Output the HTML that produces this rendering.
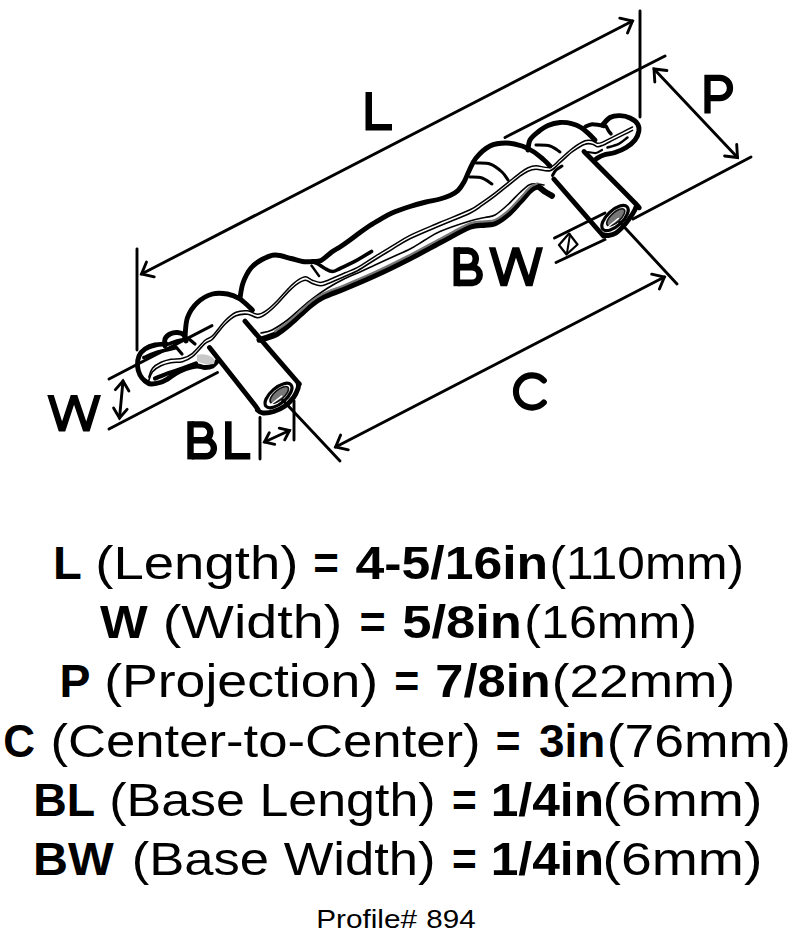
<!DOCTYPE html>
<html><head><meta charset="utf-8"><style>
html,body{margin:0;padding:0;background:#fff;width:800px;height:935px;overflow:hidden;position:relative}
</style></head><body>
<svg width="800" height="935" viewBox="0 0 800 935" style="position:absolute;left:0;top:0"><g font-family="Liberation Sans, sans-serif" font-size="46.5" fill="#000"><text transform="translate(53.10,578.50) scale(1.0146,1)" font-size="46.5" font-weight="bold">L</text>
<text transform="translate(95.35,578.50) scale(1.1723,1)" font-size="46.5">(Length)</text>
<text transform="translate(313.21,578.50) scale(0.9442,1)" font-size="46.5" font-weight="bold">=</text>
<text transform="translate(355.47,578.50) scale(1.1129,1)" font-size="46.5" font-weight="bold">4-5/16in</text>
<text transform="translate(549.41,578.50) scale(1.0662,1)" font-size="46.5">(110mm)</text>
<text transform="translate(99.89,637.50) scale(1.0870,1)" font-size="46.5" font-weight="bold">W</text>
<text transform="translate(162.78,637.50) scale(1.1979,1)" font-size="46.5">(Width)</text>
<text transform="translate(359.42,637.50) scale(0.9657,1)" font-size="46.5" font-weight="bold">=</text>
<text transform="translate(402.17,637.50) scale(1.1308,1)" font-size="46.5" font-weight="bold">5/8in</text>
<text transform="translate(524.37,637.50) scale(1.0784,1)" font-size="46.5">(16mm)</text>
<text transform="translate(59.41,696.50) scale(0.9981,1)" font-size="46.5" font-weight="bold">P</text>
<text transform="translate(104.16,696.50) scale(1.1530,1)" font-size="46.5">(Projection)</text>
<text transform="translate(394.25,696.50) scale(0.9227,1)" font-size="46.5" font-weight="bold">=</text>
<text transform="translate(435.32,696.50) scale(1.0880,1)" font-size="46.5" font-weight="bold">7/8in</text>
<text transform="translate(551.68,696.50) scale(1.1464,1)" font-size="46.5">(22mm)</text>
<text transform="translate(3.20,756.50) scale(0.9457,1)" font-size="46.5" font-weight="bold">C</text>
<text transform="translate(50.47,756.50) scale(1.1327,1)" font-size="46.5">(Center-to-Center)</text>
<text transform="translate(495.77,756.50) scale(0.9120,1)" font-size="46.5" font-weight="bold">=</text>
<text transform="translate(538.91,756.50) scale(0.9889,1)" font-size="46.5" font-weight="bold">3in</text>
<text transform="translate(606.67,756.50) scale(1.1496,1)" font-size="46.5">(76mm)</text>
<text transform="translate(33.15,815.50) scale(1.0000,1)" font-size="46.5" font-weight="bold">BL</text>
<text transform="translate(109.26,815.50) scale(1.1177,1)" font-size="46.5">(Base Length)</text>
<text transform="translate(452.02,815.50) scale(0.9120,1)" font-size="46.5" font-weight="bold">=</text>
<text transform="translate(490.65,815.50) scale(1.0704,1)" font-size="46.5" font-weight="bold">1/4in</text>
<text transform="translate(602.55,815.50) scale(1.1907,1)" font-size="46.5">(6mm)</text>
<text transform="translate(33.02,874.50) scale(1.0431,1)" font-size="46.5" font-weight="bold">BW</text>
<text transform="translate(131.72,874.50) scale(1.1312,1)" font-size="46.5">(Base Width)</text>
<text transform="translate(452.02,874.50) scale(0.9120,1)" font-size="46.5" font-weight="bold">=</text>
<text transform="translate(490.65,874.50) scale(1.0704,1)" font-size="46.5" font-weight="bold">1/4in</text>
<text transform="translate(602.55,874.50) scale(1.1907,1)" font-size="46.5">(6mm)</text>
<text transform="translate(316.20,928.30) scale(1.1444,1)" font-size="26">Profile#</text>
<text transform="translate(426.35,928.30) scale(1.1373,1)" font-size="26">894</text></g></svg>
<svg width="800" height="470" viewBox="0 0 800 470" style="position:absolute;left:0;top:0"><g fill="none" stroke="#000" stroke-linecap="round" stroke-linejoin="round"><path d="M137.0,249.0 L137.0,350.0" stroke-width="2.90"/>
<path d="M640.0,11.0 L640.0,117.0" stroke-width="2.90"/>
<path d="M141.5,274.0 L632.5,21.0" stroke-width="2.90"/><path d="M154.2,276.9 L141.5,274.0 L146.5,262.0" stroke-width="2.90" stroke-linejoin="miter"/><path d="M619.8,18.1 L632.5,21.0 L627.5,33.0" stroke-width="2.90" stroke-linejoin="miter"/>
<path d="M505.0,137.5 L665.0,56.0" stroke-width="2.90"/>
<path d="M633.0,219.0 L751.0,157.0" stroke-width="2.90"/>
<path d="M654.0,69.0 L737.5,157.5" stroke-width="2.90"/><path d="M654.8,82.0 L654.0,69.0 L666.9,70.5" stroke-width="2.90" stroke-linejoin="miter"/><path d="M736.7,144.5 L737.5,157.5 L724.6,156.0" stroke-width="2.90" stroke-linejoin="miter"/>
<path d="M109.0,379.0 L212.0,325.6" stroke-width="2.90"/>
<path d="M109.0,429.0 L217.5,372.5" stroke-width="2.90"/>
<path d="M123.0,381.0 L119.5,418.0" stroke-width="2.90"/><path d="M115.4,389.6 L123.0,381.0 L128.9,390.9" stroke-width="2.90" stroke-linejoin="miter"/><path d="M127.1,409.4 L119.5,418.0 L113.6,408.1" stroke-width="2.90" stroke-linejoin="miter"/>
<path d="M260.0,417.5 L260.0,459.0" stroke-width="2.90"/>
<path d="M294.0,401.0 L294.0,440.0" stroke-width="2.90"/>
<path d="M264.5,442.0 L289.5,430.5" stroke-width="2.90"/><path d="M274.7,444.4 L264.5,442.0 L269.3,432.7" stroke-width="2.90" stroke-linejoin="miter"/><path d="M279.3,428.1 L289.5,430.5 L284.7,439.8" stroke-width="2.90" stroke-linejoin="miter"/>
<path d="M278.0,395.0 L340.0,461.0" stroke-width="2.90"/>
<path d="M615.0,217.0 L677.0,284.0" stroke-width="2.90"/>
<path d="M335.6,447.0 L664.4,277.0" stroke-width="2.90"/><path d="M348.3,449.8 L335.6,447.0 L340.6,435.0" stroke-width="2.90" stroke-linejoin="miter"/><path d="M651.7,274.2 L664.4,277.0 L659.4,289.0" stroke-width="2.90" stroke-linejoin="miter"/>
<path d="M554.5,238.0 L605.0,213.0" stroke-width="2.90"/>
<path d="M556.0,262.5 L605.0,239.5" stroke-width="2.90"/>
<path d="M569,233.5 L577.5,244.5 L566.5,254.5 L559,245 Z" stroke-width="2.2" stroke-linejoin="round"/>
<path d="M570.0,234.5 L567.0,253.0" stroke-width="2.00"/>
<path d="M166.0,344.0 C164.2,344.2 158.5,344.2 155.0,345.0 C151.5,345.8 147.7,347.2 145.0,349.0 C142.3,350.8 140.2,353.2 139.0,356.0 C137.8,358.8 137.3,362.8 137.5,366.0 C137.7,369.2 138.8,372.5 140.0,375.0 C141.2,377.5 143.2,379.5 145.0,381.0 C146.8,382.5 148.5,383.8 151.0,384.0 C153.5,384.2 157.2,383.3 160.0,382.5 C162.8,381.7 165.0,380.4 167.5,379.0 C170.0,377.6 172.5,375.5 175.0,374.0 C177.5,372.5 180.0,371.1 182.5,370.0 C185.0,368.9 187.5,368.2 190.0,367.5 C192.5,366.8 195.0,366.0 197.5,366.0 C200.0,366.0 202.5,367.5 205.0,367.5 C207.5,367.5 210.4,367.1 212.5,366.0 C214.6,364.9 216.7,361.8 217.5,361.0" stroke-width="4.90"/>
<path d="M165.0,346.0 C165.0,344.8 164.2,341.0 165.0,339.0 C165.8,337.0 167.9,335.1 170.0,334.0 C172.1,332.9 175.2,332.3 177.5,332.5 C179.8,332.7 182.6,333.6 184.0,335.0 C185.4,336.4 185.7,340.0 186.0,341.0" stroke-width="4.90"/>
<path d="M169.0,344.0 C170.3,343.5 174.2,341.8 177.0,341.0 C179.8,340.2 184.5,339.3 186.0,339.0" stroke-width="3.50"/>
<path d="M143.8,357.5 C146.1,356.6 152.8,353.6 158.0,352.0 C163.2,350.4 172.2,348.7 175.0,348.0" stroke-width="3.50"/>
<path d="M176.0,347.0 L182.0,354.0" stroke-width="3.20"/>
<path d="M189.0,339.0 L195.0,344.0" stroke-width="3.20"/>
<path d="M185.0,337.0 C185.4,333.8 185.4,323.2 187.5,317.5 C189.6,311.8 193.3,306.4 197.5,302.5 C201.7,298.6 207.5,295.4 212.5,294.0 C217.5,292.6 222.9,293.2 227.5,294.0 C232.1,294.8 235.8,296.3 240.0,299.0 C244.2,301.7 250.4,308.2 252.5,310.0" stroke-width="4.90"/>
<path d="M240.0,298.0 C240.5,295.5 241.2,288.0 243.0,283.0 C244.8,278.0 247.8,271.9 251.0,268.0 C254.2,264.1 258.0,261.7 262.0,259.5 C266.0,257.3 270.2,255.2 275.0,255.0 C279.8,254.8 286.4,257.4 291.0,258.5 C295.6,259.6 299.0,261.0 302.5,261.5 C306.0,262.0 308.9,261.7 312.0,261.5 C315.1,261.3 317.6,262.2 321.0,260.5 C324.4,258.8 329.3,253.8 332.5,251.5 C335.7,249.2 337.1,248.9 340.0,247.0 C342.9,245.1 346.7,242.4 350.0,240.0 C353.3,237.6 356.7,234.9 360.0,232.5 C363.3,230.1 366.7,227.7 370.0,225.5 C373.3,223.3 376.3,221.6 380.0,219.5 C383.7,217.4 387.0,215.2 392.0,213.0 C397.0,210.8 404.3,208.3 410.0,206.5 C415.7,204.7 421.0,203.2 426.0,202.0 C431.0,200.8 436.0,200.1 440.0,199.0 C444.0,197.9 447.0,196.9 450.0,195.5 C453.0,194.1 455.7,192.8 458.0,190.5 C460.3,188.2 462.2,185.2 464.0,182.0 C465.8,178.8 467.0,175.0 469.0,171.0 C471.0,167.0 472.5,162.2 476.0,158.0 C479.5,153.8 485.0,148.5 490.0,146.0 C495.0,143.5 500.7,143.0 506.0,143.0 C511.3,143.0 517.3,144.5 522.0,146.0 C526.7,147.5 530.3,149.7 534.0,152.0 C537.7,154.3 541.3,157.7 544.0,160.0 C546.7,162.3 549.0,165.0 550.0,166.0" stroke-width="4.90"/>
<path d="M313.0,262.0 C313.8,262.3 316.0,262.9 318.0,264.0 C320.0,265.1 322.6,267.2 325.0,268.5 C327.4,269.8 330.0,271.5 332.5,271.5 C335.0,271.5 335.8,270.5 340.0,268.5 C344.2,266.5 352.2,262.6 357.5,259.8 C362.8,256.9 369.2,252.9 371.5,251.5" stroke-width="3.60"/>
<path d="M311.5,265.5 L319.0,276.0" stroke-width="2.40"/>
<path d="M476.0,163.0 C478.3,163.2 485.7,162.5 490.0,164.0 C494.3,165.5 499.0,169.3 502.0,172.0 C505.0,174.7 507.0,178.7 508.0,180.0" stroke-width="3.00"/>
<path d="M470.0,177.0 C472.0,177.2 478.3,176.8 482.0,178.0 C485.7,179.2 490.3,183.0 492.0,184.0" stroke-width="3.00"/>
<path d="M536.0,145.0 C538.3,145.2 546.0,144.8 550.0,146.0 C554.0,147.2 558.3,151.0 560.0,152.0" stroke-width="3.00"/>
<path d="M528.0,150.0 C528.3,148.3 528.3,143.0 530.0,140.0 C531.7,137.0 535.0,134.4 538.0,132.0 C541.0,129.6 544.3,127.1 548.0,125.5 C551.7,123.9 555.9,122.8 560.0,122.5 C564.1,122.2 569.0,122.9 572.5,123.8 C576.0,124.6 578.3,125.8 581.0,127.5 C583.7,129.2 586.4,131.7 588.8,133.8 C591.1,135.8 594.0,139.0 595.0,140.0" stroke-width="4.90"/>
<path d="M585.0,127.0 C586.0,126.6 588.7,124.7 591.0,124.4 C593.3,124.1 596.6,124.7 598.8,125.0 C600.9,125.3 602.9,126.0 603.8,126.2" stroke-width="4.00"/>
<path d="M606.0,126.0 C606.5,126.9 607.9,130.0 608.8,131.2 C609.6,132.5 610.6,133.3 611.0,133.8" stroke-width="3.50"/>
<path d="M602.5,125.0 C603.8,123.8 607.1,119.1 610.0,117.5 C612.9,115.9 616.7,115.5 620.0,115.6 C623.3,115.7 627.1,116.6 630.0,118.0 C632.9,119.4 636.0,121.5 637.5,123.8 C639.0,126.0 639.2,128.5 638.8,131.2 C638.3,134.0 637.1,137.3 635.0,140.0 C632.9,142.7 629.6,145.4 626.2,147.5 C622.9,149.6 618.8,151.2 615.0,152.5 C611.2,153.8 606.9,154.0 603.8,155.0 C600.6,156.0 597.5,158.1 596.2,158.8" stroke-width="4.90"/>
<path d="M607.5,147.5 C609.4,146.9 615.4,145.4 618.8,143.8 C622.1,142.1 626.0,138.5 627.5,137.5" stroke-width="2.50"/>
<path d="M588.0,152.0 C589.3,152.2 593.7,153.3 596.0,153.0 C598.3,152.7 601.0,150.5 602.0,150.0" stroke-width="2.20"/>
<path d="M148.8,377.1 C149.4,375.6 150.5,370.8 152.5,368.3 C154.5,365.8 157.9,363.8 161.0,362.3 C164.1,360.8 167.4,360.0 171.0,359.3 C174.6,358.6 178.9,359.3 182.5,358.3 C186.1,357.3 188.8,356.3 192.5,353.3 C196.2,350.3 201.7,343.2 205.0,340.3 C208.3,337.4 209.2,339.1 212.5,335.8 C215.8,332.6 221.1,324.7 225.0,320.8 C228.9,316.9 232.2,314.0 236.0,312.3 C239.8,310.6 243.9,310.5 247.5,310.8 C251.1,311.1 254.4,314.3 257.5,314.3 C260.6,314.3 262.9,312.9 266.2,310.6 C269.6,308.2 273.8,304.2 277.5,300.4 C281.2,296.7 285.4,291.4 288.8,288.1 C292.1,284.7 294.9,282.1 297.8,280.2 C300.6,278.3 303.2,276.8 305.6,276.8 C308.0,276.8 310.0,279.3 312.4,280.2 C314.8,281.1 317.6,282.4 320.2,282.4 C322.9,282.4 324.0,281.8 328.1,280.2 C332.2,278.6 340.1,274.9 345.0,272.8 C349.9,270.7 352.5,270.1 357.5,267.3 C362.5,264.6 369.2,259.9 375.0,256.3 C380.8,252.7 386.7,249.2 392.5,245.7 C398.3,242.2 402.1,239.2 410.0,235.3 C417.9,231.4 430.0,226.6 440.0,222.3 C450.0,218.1 462.9,213.2 470.0,209.8 C477.1,206.4 478.3,204.6 482.5,201.8 C486.7,199.0 490.8,196.0 495.0,192.8 C499.2,189.6 503.3,186.1 507.5,182.8 C511.7,179.5 516.6,175.3 520.0,172.8 C523.4,170.3 525.3,169.0 528.0,167.8 C530.7,166.6 532.3,165.9 536.0,165.8 C539.7,165.7 546.0,168.4 550.0,167.3 C554.0,166.2 556.2,162.5 560.0,159.3 C563.8,156.1 568.3,151.4 572.5,148.3 C576.7,145.2 581.7,142.1 585.0,140.8 C588.3,139.6 590.4,140.4 592.5,140.8 C594.6,141.2 595.8,143.1 597.5,143.3 C599.2,143.5 600.0,143.1 602.5,142.1 C605.0,141.0 609.2,138.7 612.5,137.1 C615.8,135.4 619.2,133.7 622.5,132.1 C625.8,130.4 630.8,127.9 632.5,127.0" stroke-width="1.50"/>
<path d="M148.8,380.4 C149.4,379.0 150.5,374.2 152.5,371.7 C154.5,369.2 157.9,367.2 161.0,365.7 C164.1,364.2 167.4,363.4 171.0,362.7 C174.6,362.0 178.9,362.7 182.5,361.7 C186.1,360.7 188.8,359.7 192.5,356.7 C196.2,353.7 201.7,346.6 205.0,343.7 C208.3,340.8 209.2,342.4 212.5,339.2 C215.8,335.9 221.1,328.1 225.0,324.2 C228.9,320.3 232.2,317.4 236.0,315.7 C239.8,314.0 243.9,313.9 247.5,314.2 C251.1,314.5 254.4,317.7 257.5,317.7 C260.6,317.7 262.9,316.3 266.2,313.9 C269.6,311.6 273.8,307.6 277.5,303.8 C281.2,300.1 285.4,294.8 288.8,291.4 C292.1,288.1 294.9,285.5 297.8,283.6 C300.6,281.7 303.2,280.2 305.6,280.2 C308.0,280.2 310.0,282.7 312.4,283.6 C314.8,284.5 317.6,285.8 320.2,285.8 C322.9,285.8 324.0,285.2 328.1,283.6 C332.2,282.0 340.1,278.3 345.0,276.2 C349.9,274.1 352.5,273.4 357.5,270.7 C362.5,267.9 369.2,263.3 375.0,259.7 C380.8,256.1 386.7,252.6 392.5,249.1 C398.3,245.6 402.1,242.6 410.0,238.7 C417.9,234.8 430.0,229.9 440.0,225.7 C450.0,221.4 462.9,216.6 470.0,213.2 C477.1,209.8 478.3,208.0 482.5,205.2 C486.7,202.4 490.8,199.4 495.0,196.2 C499.2,193.0 503.3,189.5 507.5,186.2 C511.7,182.9 516.6,178.7 520.0,176.2 C523.4,173.7 525.3,172.4 528.0,171.2 C530.7,170.0 532.3,169.3 536.0,169.2 C539.7,169.1 546.0,171.8 550.0,170.7 C554.0,169.6 556.2,165.9 560.0,162.7 C563.8,159.5 568.3,154.8 572.5,151.7 C576.7,148.6 581.7,145.4 585.0,144.2 C588.3,142.9 590.4,143.8 592.5,144.2 C594.6,144.6 595.8,146.5 597.5,146.7 C599.2,146.9 600.0,146.5 602.5,145.4 C605.0,144.4 609.2,142.1 612.5,140.4 C615.8,138.8 619.2,137.1 622.5,135.4 C625.8,133.8 630.8,131.3 632.5,130.4" stroke-width="1.60"/>
<path d="M261.0,333.0 C262.8,332.5 267.6,332.2 272.0,330.0 C276.4,327.8 282.8,323.5 287.5,320.0 C292.2,316.5 295.7,312.7 300.0,309.0 C304.3,305.3 309.0,301.4 313.5,298.0 C318.0,294.6 321.8,291.8 327.0,288.5 C332.2,285.2 339.5,281.2 345.0,278.5 C350.5,275.8 355.0,274.2 360.0,272.0 C365.0,269.8 369.6,267.5 375.0,265.0 C380.4,262.5 386.7,259.7 392.5,257.0 C398.3,254.3 404.6,251.8 410.0,249.0 C415.4,246.2 420.0,242.9 425.0,240.0 C430.0,237.1 432.5,234.7 440.0,231.5 C447.5,228.3 462.5,223.3 470.0,221.0 C477.5,218.7 480.8,218.5 485.0,217.5 C489.2,216.5 491.2,217.1 495.0,215.0 C498.8,212.9 503.3,208.8 507.5,205.0 C511.7,201.2 516.4,195.8 520.0,192.5 C523.6,189.2 526.3,186.5 529.0,185.0 C531.7,183.5 533.5,183.8 536.0,183.8 C538.5,183.8 542.7,184.8 544.0,185.0" stroke-width="1.60"/>
<path d="M259.5,339.8 C262.1,339.0 270.3,337.1 275.0,334.8 C279.7,332.5 283.3,329.1 287.5,325.8 C291.7,322.5 296.2,318.1 300.0,314.8 C303.8,311.5 306.2,308.7 310.0,305.8 C313.8,302.9 316.7,300.2 322.5,297.3 C328.3,294.4 336.2,291.9 345.0,288.3 C353.8,284.7 364.2,280.4 375.0,275.4 C385.8,270.4 399.2,263.8 410.0,258.3 C420.8,252.8 430.0,247.6 440.0,242.3 C450.0,237.1 462.5,229.7 470.0,226.8 C477.5,223.9 480.8,225.4 485.0,224.8 C489.2,224.2 491.2,225.0 495.0,223.3 C498.8,221.6 503.3,218.4 507.5,214.8 C511.7,211.2 516.2,205.8 520.0,201.8 C523.8,197.8 527.1,193.3 530.0,190.8 C532.9,188.3 535.0,186.6 537.5,186.8 C540.0,187.0 542.6,190.3 545.0,191.8 C547.4,193.3 550.8,195.1 552.0,195.8" stroke-width="6.00"/>
<path d="M275.0,331.4 C277.1,329.9 283.3,325.7 287.5,322.4 C291.7,319.1 296.2,314.7 300.0,311.4 C303.8,308.1 306.2,305.3 310.0,302.4 C313.8,299.5 316.7,296.8 322.5,293.9 C328.3,291.0 336.2,288.5 345.0,284.9 C353.8,281.2 364.2,277.0 375.0,272.0 C385.8,267.0 399.2,260.4 410.0,254.9 C420.8,249.4 430.0,244.2 440.0,238.9 C450.0,233.7 462.5,226.3 470.0,223.4 C477.5,220.5 480.8,222.0 485.0,221.4 C489.2,220.8 491.2,221.6 495.0,219.9 C498.8,218.2 503.3,215.0 507.5,211.4 C511.7,207.8 516.2,202.4 520.0,198.4 C523.8,194.4 527.1,189.9 530.0,187.4 C532.9,184.9 536.2,184.1 537.5,183.4" stroke-width="2.20" stroke="#777"/>
<path d="M155.0,378.5 C157.1,377.7 162.9,375.2 167.5,373.5 C172.1,371.8 177.8,370.2 182.5,368.5 C187.2,366.8 193.8,364.3 196.0,363.5" stroke-width="4.20"/>
<path d="M197,355 C204,353 211,355 215,360 L214,364 C208,365 202,364 197,361 Z" fill="#c8c8c8" stroke="none"/>
<path d="M209.5,347.5 C216.9,356.9 246.0,393.6 254.0,404.0 C262.0,414.4 256.0,408.5 257.5,410.0 C259.0,411.5 260.3,412.8 263.0,413.0 C265.7,413.2 270.1,412.7 273.8,411.5 C277.4,410.3 281.7,408.3 285.0,406.0 C288.3,403.7 291.3,400.4 293.5,397.5 C295.7,394.6 297.2,390.9 298.0,388.5 C298.8,386.1 298.6,384.7 298.0,383.0 C297.4,381.3 303.3,388.8 294.5,378.5 C285.7,368.2 253.2,330.8 245.0,321.2" stroke-width="4.90"/>
<ellipse cx="278.5" cy="395.5" rx="16.5" ry="7.8" transform="rotate(-41 278.5 395.5)" stroke-width="3.2"/>
<ellipse cx="279.5" cy="395.5" rx="11.5" ry="4.8" transform="rotate(-41 278.5 395.5)" fill="#777" stroke="#111" stroke-width="1.6"/>
<path d="M268.0,397.3 L280.5,398.1" transform="rotate(-41 278.5 395.5)" stroke="#fff" stroke-width="1.5"/>
<path d="M552.5,175.5 C553.1,174.6 554.4,171.6 556.0,170.0 C557.6,168.4 561.0,166.7 562.0,166.0" stroke-width="3.00"/>
<path d="M553.8,179.0 C561.3,187.7 590.8,221.8 599.0,231.0 C607.2,240.2 601.5,233.8 603.0,234.5 C604.5,235.2 605.8,235.8 608.0,235.5 C610.2,235.2 613.1,234.9 616.0,233.0 C618.9,231.1 622.5,227.2 625.3,224.0 C628.0,220.8 630.7,216.8 632.5,214.0 C634.3,211.2 635.6,208.8 636.0,207.0 C636.4,205.2 643.7,212.2 635.0,203.0 C626.3,193.8 592.5,160.1 584.0,151.5" stroke-width="4.90"/>
<ellipse cx="615" cy="218" rx="16.5" ry="7.8" transform="rotate(-43 615 218)" stroke-width="3.2"/>
<ellipse cx="616" cy="218" rx="11.5" ry="4.8" transform="rotate(-43 615 218)" fill="#777" stroke="#111" stroke-width="1.6"/>
<path d="M604.5,219.8 L617.0,220.6" transform="rotate(-43 615 218)" stroke="#fff" stroke-width="1.5"/>
<path d="M365.5,92.0 V130.5 H392.0 V124.0 H372.0 V92.0 Z" fill="#000" stroke="none"/>
<path d="M707.5,113.4 V77.8 H719.85 A10.15,10.15 0 0 1 719.85,98.1 H707.5" stroke-width="6.3" stroke-linecap="butt" stroke-linejoin="miter"/>
<clipPath id="w1"><rect x="0" y="395.0" width="800" height="36.4"/></clipPath><path d="M48.2,387.7 L62.0,431.4 L74.0,395.0 L86.4,431.4 L100.0,387.7" stroke-width="6.2" stroke-linejoin="miter" stroke-miterlimit="10" stroke-linecap="butt" clip-path="url(#w1)"/>
<path d="M191.7,424.4 H202.4 A7.93,7.93 0 0 1 202.4,440.3 H191.7 M191.7,440.3 H205.9 A8.00,8.00 0 0 1 205.9,456.3 H191.7" stroke-width="6.4" stroke-linecap="butt" stroke-linejoin="miter"/><rect x="187.3" y="421.2" width="6.4" height="38.2" fill="#000" stroke="none"/>
<path d="M225.0,421.2 V459.5 H250.3 V452.9 H231.6 V421.2 Z" fill="#000" stroke="none"/>
<path d="M458.1,250.6 H468.2 A8.28,8.28 0 0 1 468.2,267.1 H458.1 M458.1,267.1 H472.3 A7.92,7.92 0 0 1 472.3,282.9 H458.1" stroke-width="6.6" stroke-linecap="butt" stroke-linejoin="miter"/><rect x="453.5" y="247.2" width="6.6" height="39.0" fill="#000" stroke="none"/>
<clipPath id="w2"><rect x="0" y="247.2" width="800" height="39.0"/></clipPath><path d="M489.8,239.4 L503.8,286.2 L515.8,247.2 L529.2,286.2 L541.9,239.4" stroke-width="6.4" stroke-linejoin="miter" stroke-miterlimit="10" stroke-linecap="butt" clip-path="url(#w2)"/>
<path d="M543.8,380.5 A16.1,16.1 0 1 0 543.8,402.5" stroke-width="6.1"/></g></svg>
</body></html>
